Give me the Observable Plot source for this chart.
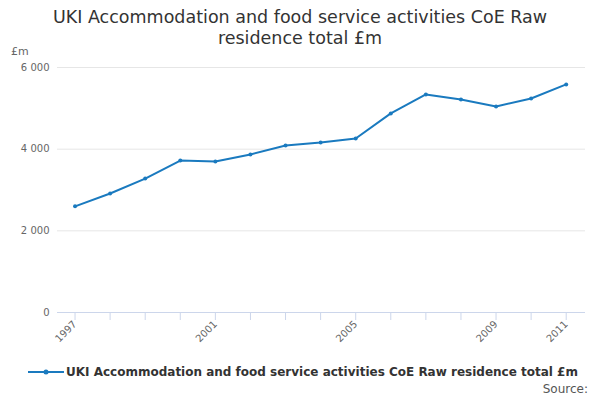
<!DOCTYPE html>
<html><head><meta charset="utf-8">
<script src="https://cdn.jsdelivr.net/npm/d3@7"></script>
<script src="https://cdn.jsdelivr.net/npm/@observablehq/plot@0.6"></script>
<style>
body{margin:0;font-family:"DejaVu Sans",sans-serif;width:600px;height:400px;overflow:hidden;background:#fff}
#title{height:50px;text-align:center;font-size:17.5px;color:#333;line-height:21px;padding-top:7px;box-sizing:border-box}
#legend{position:absolute;top:365px;left:26px;font-size:12px;font-weight:bold;color:#333;display:flex;align-items:center;white-space:nowrap}
#source{position:absolute;top:382px;right:12px;font-size:12px;color:#555}
#unit{position:absolute;top:45px;left:11px;font-size:11px;color:#666}
</style></head><body>
<div id="title">UKI Accommodation and food service activities CoE Raw<br>residence total £m</div>
<div id="unit">£m</div>
<div id="chart"></div>
<div id="legend"><svg width="40" height="10"><line x1="2" x2="38" y1="5" y2="5" stroke="#1a7abf" stroke-width="2"/><circle cx="20" cy="5" r="2.5" fill="#1a7abf"/></svg>UKI Accommodation and food service activities CoE Raw residence total £m</div>
<div id="source">Source:</div>
<script>
const years=[1997,1998,1999,2000,2001,2002,2003,2004,2005,2006,2007,2008,2009,2010,2011];
const values=[2600,2915,3280,3720,3700,3870,4090,4165,4260,4875,5340,5215,5045,5240,5585];
const labelYears=[1997,2001,2005,2009,2011];
const yTicks=[0,2000,4000,6000];
const data=years.map((y,i)=>({year:y,value:values[i]}));
const fmt=d=>d3.format(",")(d).replace(/,/g," ");
const plot=Plot.plot({
  width:600,height:300,marginTop:17,marginBottom:38,marginLeft:57,marginRight:15,
  style:{fontFamily:"DejaVu Sans",fontSize:"10px",color:"#666"},
  x:{domain:[1996.5,2011.55],label:null},
  y:{domain:[0,6000],label:null},
  marks:[
    Plot.gridY(yTicks,{stroke:"#e6e6e6",strokeOpacity:1}),
    Plot.ruleY([0],{stroke:"#ccd6eb"}),
    Plot.axisY({ticks:yTicks,tickFormat:fmt,tickSize:0,tickPadding:8,fill:"#666"}),
    Plot.axisX({ticks:years,tickFormat:d=>labelYears.includes(d)?String(d):"",tickSize:8,stroke:"#ccd6eb",strokeOpacity:1,tickRotate:-45,tickPadding:2,fill:"#666"}),
    Plot.line(data,{x:"year",y:"value",stroke:"#1a7abf",strokeWidth:2}),
    Plot.dot(data,{x:"year",y:"value",fill:"#1a7abf",r:2})
  ]
});
document.getElementById("chart").appendChild(plot);
</script></body></html>
